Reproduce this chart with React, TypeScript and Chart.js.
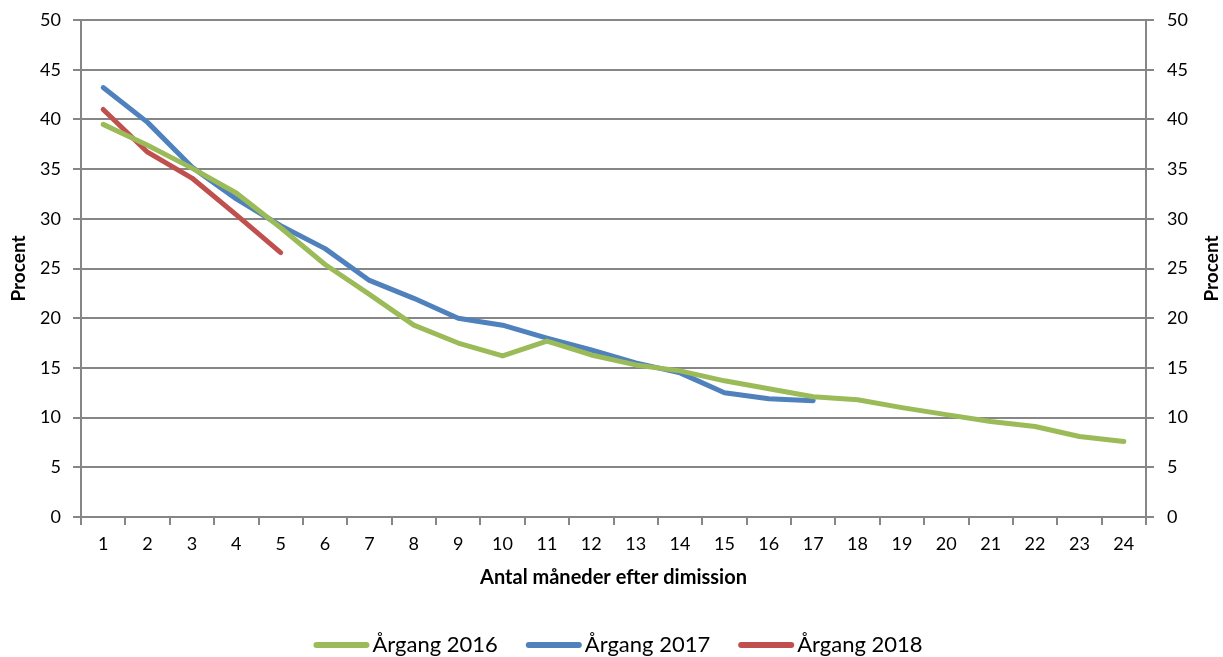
import React, { useEffect, useRef } from "react";
import { Chart, registerables } from "chart.js";

Chart.register(...registerables);

const months = ["1","2","3","4","5","6","7","8","9","10","11","12","13","14","15","16","17","18","19","20","21","22","23","24"];
const aargang2016 = [39.5, 37.4, 35.1, 32.6, 29.1, 25.4, 22.4, 19.3, 17.5, 16.2, 17.7, 16.3, 15.3, 14.7, 13.7, 12.9, 12.1, 11.8, 11.0, 10.3, 9.6, 9.1, 8.1, 7.6];
const aargang2017 = [43.2, 39.7, 35.2, 32.0, 29.3, 27.0, 23.8, 22.0, 20.0, 19.3, 18.0, 16.8, 15.5, 14.5, 12.5, 11.9, 11.7];
const aargang2018 = [41.0, 36.7, 34.1, 30.4, 26.6];
const seriesNames = ["Årgang 2016", "Årgang 2017", "Årgang 2018"];
const seriesColors = ["#9BBB59", "#4F81BD", "#C0504D"];
const yTitle = "Procent";
const xTitle = "Antal måneder efter dimission";

const FONT = "Lato, 'Open Sans', sans-serif";
const GRID = "#868686";

const customPlugin = {
  id: "customDecor",
  afterDraw(chart: any) {
    const ctx = chart.ctx as CanvasRenderingContext2D;
    // right axis title, reading bottom-to-top like the left one
    const y1 = chart.scales.y1;
    const area = chart.chartArea;
    ctx.save();
    ctx.fillStyle = "#000";
    ctx.font = `bold 19px ${FONT}`;
    ctx.textAlign = "center";
    ctx.textBaseline = "middle";
    ctx.translate(y1.right - 11, (area.top + area.bottom) / 2);
    ctx.rotate(-Math.PI / 2);
    ctx.fillText(yTitle, 0, 0);
    ctx.restore();

    // legend
    ctx.save();
    ctx.font = `22px ${FONT}`;
    ctx.textBaseline = "middle";
    ctx.textAlign = "left";
    const symW = 56, gap = 3, itemGap = 28, cy = 645;
    const items = chart.data.datasets.map((d: any) => ({ label: d.label, color: d.borderColor, w: symW + gap + ctx.measureText(d.label).width }));
    const total = items.reduce((s: number, it: any) => s + it.w, 0) + itemGap * (items.length - 1);
    let x = 618 - total / 2;
    for (const it of items) {
      ctx.strokeStyle = it.color;
      ctx.lineWidth = 6;
      ctx.lineCap = "round";
      ctx.beginPath();
      ctx.moveTo(x + 3, cy);
      ctx.lineTo(x + symW - 3, cy);
      ctx.stroke();
      ctx.fillStyle = "#000";
      ctx.fillText(it.label, x + symW + gap, cy);
      x += it.w + itemGap;
    }
    ctx.restore();
  },
};

export default function App() {
  const ref = useRef<HTMLCanvasElement>(null);
  useEffect(() => {
    document.body.style.margin = "0";
    const ctx = ref.current!;
    const yScale = (position: "left" | "right", onChart: boolean, width: number) => ({
      position,
      display: true,
      min: 0,
      max: 50,
      afterFit: (s: any) => { s.width = width; s.paddingTop = 0; s.paddingBottom = 0; },
      ticks: { stepSize: 5, color: "#000", font: { family: FONT, size: 18 }, padding: position === "left" ? 12 : 13 },
      border: { display: true, color: GRID, width: 2 },
      grid: { drawOnChartArea: onChart, color: GRID, lineWidth: 2, tickLength: 8, tickColor: GRID },
      title: { display: position === "left", text: yTitle, color: "#000", font: { family: FONT, size: 19, weight: "bold" as const }, padding: { top: 7, bottom: 0 } },
    });
    const chart = new Chart(ctx, {
      type: "line",
      data: {
        labels: months,
        datasets: [
          { label: seriesNames[0], data: aargang2016, borderColor: seriesColors[0], backgroundColor: seriesColors[0], borderWidth: 5, pointRadius: 0, tension: 0, borderCapStyle: "round" as const, borderJoinStyle: "round" as const },
          { label: seriesNames[1], data: aargang2017, borderColor: seriesColors[1], backgroundColor: seriesColors[1], borderWidth: 5, pointRadius: 0, tension: 0, borderCapStyle: "round" as const, borderJoinStyle: "round" as const },
          { label: seriesNames[2], data: aargang2018, borderColor: seriesColors[2], backgroundColor: seriesColors[2], borderWidth: 5, pointRadius: 0, tension: 0, borderCapStyle: "round" as const, borderJoinStyle: "round" as const },
        ],
      },
      options: {
        animation: false,
        responsive: false,
        maintainAspectRatio: false,
        layout: { padding: { top: 20, left: 0, right: 0, bottom: 0 } },
        plugins: {
          legend: { display: false },
          tooltip: { enabled: false },
        },
        scales: {
          x: {
            offset: true,
            afterFit: (s: any) => { s.height = 140; },
            ticks: { color: "#000", font: { family: FONT, size: 18 }, padding: 8, maxRotation: 0, autoSkip: false },
            border: { display: true, color: GRID, width: 2 },
            grid: { offset: true, drawOnChartArea: false, color: GRID, lineWidth: 2, tickLength: 8, tickColor: GRID },
            title: { display: true, text: xTitle, color: "#000", font: { family: FONT, size: 20, weight: "bold" }, padding: { top: 8, bottom: 67 } },
          },
          y: yScale("left", true, 81) as any,
          y1: yScale("right", false, 77) as any,
        },
      },
      plugins: [customPlugin],
    });
    return () => chart.destroy();
  }, []);
  return (
    <div style={{ width: 1223, height: 657 }}>
      <canvas ref={ref} width={1223} height={657} style={{ width: 1223, height: 657 }} />
    </div>
  );
}
